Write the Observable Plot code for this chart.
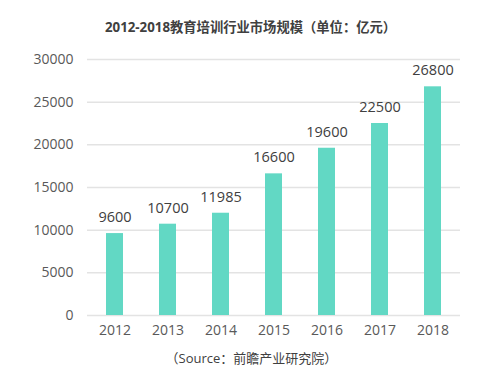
<!DOCTYPE html>
<html><head><meta charset="utf-8">
<script src="https://cdn.jsdelivr.net/npm/d3@7"></script>
<script src="https://cdn.jsdelivr.net/npm/@observablehq/plot@0.6"></script>
<style>
body{margin:0;background:#fff;font-family:"Open Sans","Noto Sans CJK SC",sans-serif;}
#wrap{width:491px;}
.title{height:45px;line-height:54px;text-align:center;font-size:13.3px;font-weight:bold;color:#404040;padding-left:10px;box-sizing:border-box;font-family:"Open Sans","Noto Sans CJK SC",sans-serif;}
.cap{text-align:center;font-size:13px;color:#404040;line-height:20px;padding-left:12px;margin-top:3px;}
</style></head><body>
<div id="wrap">
<div class="title">2012-2018教育培训行业市场规模（单位：亿元）</div>
<div id="chart"></div>
<div class="cap">（Source：前瞻产业研究院）</div>
</div>
<script>
const years = ["2012","2013","2014","2015","2016","2017","2018"];
const values = [9600,10700,11985,16600,19600,22500,26800];
const yTicks = [0,5000,10000,15000,20000,25000,30000];
const data = years.map((y,i)=>({year:y,value:values[i]}));
const chart = Plot.plot({
  width:491, height:300,
  marginTop:14, marginBottom:30, marginLeft:87, marginRight:31,
  style:{fontFamily:'"Open Sans","Noto Sans CJK SC",sans-serif', fontSize:"14px", color:"#595959"},
  x:{domain:years, paddingInner:0.68, paddingOuter:0.34, label:null, tickSize:0, tickPadding:10},
  y:{domain:[0,30000], ticks:yTicks, label:null, tickSize:0, tickPadding:14, tickFormat:d=>String(d)},
  marks:[
    Plot.ruleY(yTicks,{stroke:"#e3e3e3", strokeWidth:1.5}),
    Plot.barY(data,{x:"year", y:"value", fill:"#62d8c4"}),
    Plot.text(data,{x:"year", y:"value", text:d=>String(d.value), dy:-16, fontSize:14.5, fill:"#404040"})
  ]
});
document.getElementById("chart").appendChild(chart);
</script>
</body></html>
